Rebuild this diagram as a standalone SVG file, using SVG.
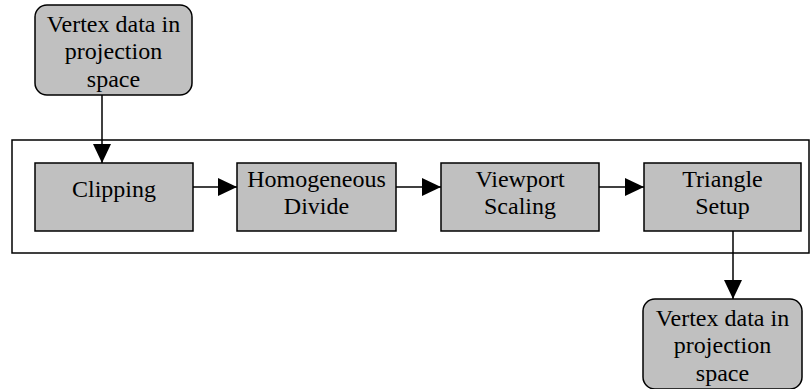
<svg xmlns="http://www.w3.org/2000/svg" width="811" height="389" viewBox="0 0 811 389">
  <defs>
    <marker id="arrow" markerUnits="userSpaceOnUse" markerWidth="19" markerHeight="18" refX="19" refY="9" orient="auto">
      <path d="M0,0 L19,9 L0,18 Z" fill="#000"/>
    </marker>
    <style>
      .box { fill: #c0c0c0; stroke: #000; stroke-width: 1.5; }
      .frame { fill: none; stroke: #000; stroke-width: 1.5; }
      .lbl { font-family: "Liberation Serif", "Times New Roman", serif; font-size: 24px; fill: #000; text-anchor: middle; }
      .edge { stroke: #000; stroke-width: 1.5; fill: none; marker-end: url(#arrow); }
    </style>
  </defs>
  <rect width="811" height="389" fill="#fff"/>

  <!-- stage frame -->
  <rect class="frame" x="12" y="140" width="797" height="113"/>

  <g id="connectors">
    <line class="edge" x1="102" y1="95" x2="102" y2="163"/>
    <line class="edge" x1="193" y1="187" x2="237" y2="187"/>
    <line class="edge" x1="396" y1="187" x2="441" y2="187"/>
    <line class="edge" x1="599" y1="187" x2="644" y2="187"/>
    <line class="edge" x1="733" y1="231" x2="733" y2="299"/>
  </g>

  <g id="input">
    <rect class="box" x="35" y="5" width="157" height="90" rx="12" ry="12"/>
    <text class="lbl" x="113.5" y="32">Vertex data in</text>
    <text class="lbl" x="113.5" y="59">projection</text>
    <text class="lbl" x="113.5" y="87">space</text>
  </g>

  <g id="clipping">
    <rect class="box" x="35" y="163" width="158" height="68"/>
    <text class="lbl" x="114" y="197">Clipping</text>
  </g>

  <g id="homogeneous-divide">
    <rect class="box" x="237" y="163" width="159" height="68"/>
    <text class="lbl" x="316.5" y="187">Homogeneous</text>
    <text class="lbl" x="316.5" y="214">Divide</text>
  </g>

  <g id="viewport-scaling">
    <rect class="box" x="441" y="163" width="158" height="68"/>
    <text class="lbl" x="520" y="187">Viewport</text>
    <text class="lbl" x="520" y="214">Scaling</text>
  </g>

  <g id="triangle-setup">
    <rect class="box" x="644" y="163" width="157" height="68"/>
    <text class="lbl" x="722.5" y="187">Triangle</text>
    <text class="lbl" x="722.5" y="214">Setup</text>
  </g>

  <g id="output">
    <rect class="box" x="643" y="299" width="159" height="90" rx="12" ry="12"/>
    <text class="lbl" x="722.5" y="326">Vertex data in</text>
    <text class="lbl" x="722.5" y="353">projection</text>
    <text class="lbl" x="722.5" y="381">space</text>
  </g>
</svg>
